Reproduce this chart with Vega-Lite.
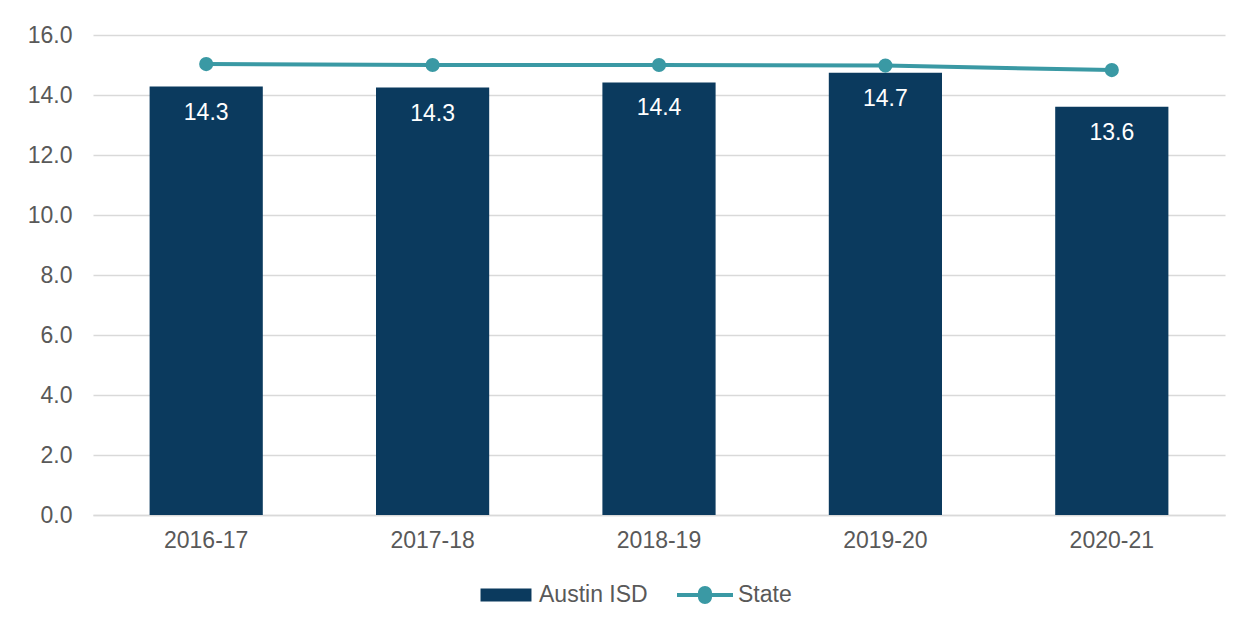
{
  "$schema": "https://vega.github.io/schema/vega-lite/v6.json",
  "autosize": {"type": "none"},
  "width": 1132,
  "height": 480,
  "padding": {"left": 93, "top": 35, "right": 27, "bottom": 114},
  "background": "white",
  "config": {
    "view": {"stroke": null},
    "font": "Liberation Sans",
    "axis": {"labelFont": "Liberation Sans", "labelFontSize": 23, "labelColor": "#595959", "ticks": false, "title": null, "gridColor": "#D9D9D9", "gridWidth": 1.5}
  },
  "data": {
    "values": [
      {"year": "2016-17", "series": "Austin ISD", "value": 14.28, "state": 15.03},
      {"year": "2017-18", "series": "Austin ISD", "value": 14.25, "state": 15.0},
      {"year": "2018-19", "series": "Austin ISD", "value": 14.42, "state": 15.0},
      {"year": "2019-20", "series": "Austin ISD", "value": 14.74, "state": 14.98},
      {"year": "2020-21", "series": "Austin ISD", "value": 13.61, "state": 14.83}
    ]
  },
  "encoding": {
    "x": {
      "field": "year", "type": "nominal",
      "scale": {"paddingInner": 0.5, "paddingOuter": 0.25},
      "axis": {"labelAngle": 0, "labelPadding": 14, "domainColor": "#D9D9D9", "domainWidth": 1.5, "grid": false}
    }
  },
  "layer": [
    {
      "mark": {"type": "bar"},
      "encoding": {
        "y": {"field": "value", "type": "quantitative", "scale": {"domain": [0, 16]},
          "axis": {"values": [0, 2, 4, 6, 8, 10, 12, 14, 16], "format": ".1f", "labelPadding": 21, "domain": false, "grid": true}},
        "color": {"datum": "Austin ISD", "type": "nominal",
          "scale": {"domain": ["Austin ISD", "State"], "range": ["#0B3A5E", "#3A99A4"]},
          "legend": {
            "orient": "none", "legendX": 385, "legendY": 532, "direction": "horizontal", "title": null,
            "labelFontSize": 23, "labelColor": "#595959", "labelFont": "Liberation Sans",
            "symbolSize": 3136, "labelOffset": 5, "columnPadding": 29,
            "encode": {
              "symbols": {"update": {
                "shape": {"signal": "datum.value === 'State' ? 'M-1,-0.07 L-0.25,-0.07 A0.25,0.25 0 0,1 0.25,-0.07 L1,-0.07 L1,0.07 L0.25,0.07 A0.25,0.25 0 0,1 -0.25,0.07 L-1,0.07 Z' : 'M-0.91,-0.23 L0.91,-0.23 L0.91,0.23 L-0.91,0.23 Z'"},
                "fill": {"signal": "datum.value === 'State' ? '#3A99A4' : '#0B3A5E'"},
                "stroke": {"value": "transparent"},
                "strokeWidth": {"value": 0},
                "opacity": {"value": 1},
                "fillOpacity": {"value": 1}
              }}
            }
          }}
      }
    },
    {
      "mark": {"type": "text", "color": "white", "fontSize": 23, "baseline": "top", "dy": 15, "font": "Liberation Sans"},
      "encoding": {
        "y": {"field": "value", "type": "quantitative"},
        "text": {"field": "value", "type": "quantitative", "format": ".1f"}
      }
    },
    {
      "mark": {"type": "line", "strokeWidth": 4, "point": {"size": 200, "filled": true, "opacity": 1}},
      "encoding": {
        "y": {"field": "state", "type": "quantitative"},
        "color": {"datum": "State", "type": "nominal"}
      }
    }
  ]
}
